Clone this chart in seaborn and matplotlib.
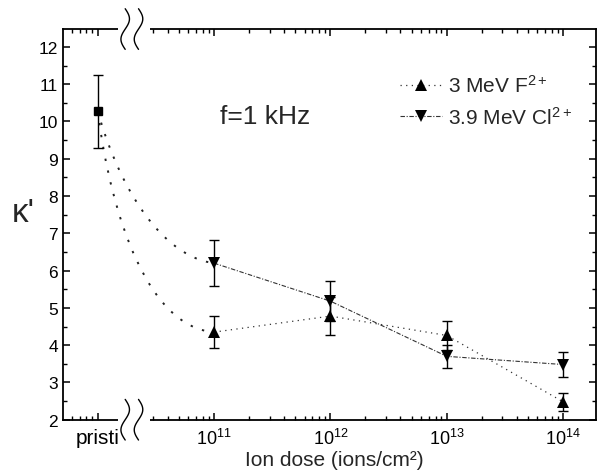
import numpy as np
import pandas as pd
import matplotlib
matplotlib.use("Agg")
import matplotlib.pyplot as plt
import seaborn as sns
from matplotlib.path import Path
from matplotlib.patches import PathPatch, Rectangle
from matplotlib.lines import Line2D

# data
pristine_dose = 1e10          # plotted position of the pristine sample
pristine_k = 10.28
pristine_err = 0.98

doses = [1e11, 1e12, 1e13, 1e14]
f_k = [4.35, 4.78, 4.26, 2.48]
f_err = [0.42, 0.50, 0.38, 0.25]
cl_k = [6.20, 5.18, 3.70, 3.48]
cl_err = [0.61, 0.54, 0.31, 0.33]

xtick_pos = [1e10, 1e11, 1e12, 1e13, 1e14]
xtick_labels = ["pristi", "$10^{11}$", "$10^{12}$", "$10^{13}$", "$10^{14}$"]

sns.set_theme(style="ticks")
plt.rcParams["font.family"] = ["Liberation Sans", "DejaVu Sans"]
plt.rcParams["mathtext.fontset"] = "custom"
plt.rcParams["mathtext.rm"] = "Liberation Sans"
plt.rcParams["mathtext.it"] = "Liberation Sans:italic"
plt.rcParams["mathtext.default"] = "regular"

fig = plt.figure(figsize=(5.98, 4.77), dpi=100)
ax = fig.add_axes([0.106, 0.118, 0.891, 0.819])
ax.set_xscale("log")
ax.set_xlim(10 ** 9.705, 10 ** 14.284)
ax.set_ylim(2, 12.48)

df_f = pd.DataFrame({"dose": doses, "k": f_k})
df_cl = pd.DataFrame({"dose": doses, "k": cl_k})

dot_f = (0, (1, 3.5))
dashdot_cl = (0, (4, 1.5, 1, 1.5))
dot_curve = (0, (1.2, 5))

sns.lineplot(data=df_f, x="dose", y="k", ax=ax, color="#333333", lw=0.9,
             linestyle=dot_f, marker="^", markersize=8.5, markeredgewidth=0,
             markerfacecolor="black", zorder=4)
sns.lineplot(data=df_cl, x="dose", y="k", ax=ax, color="#333333", lw=0.8,
             linestyle=dashdot_cl, marker="v", markersize=8.5, markeredgewidth=0,
             markerfacecolor="black", zorder=4)

ax.errorbar(doses, f_k, yerr=f_err, fmt="none", ecolor="black",
            elinewidth=1.0, capsize=3.6, capthick=1.0, zorder=3)
ax.errorbar(doses, cl_k, yerr=cl_err, fmt="none", ecolor="black",
            elinewidth=1.0, capsize=3.6, capthick=1.0, zorder=3)
ax.errorbar([pristine_dose], [pristine_k], yerr=[pristine_err], fmt="s",
            color="black", markersize=6, elinewidth=1.0, capsize=3.6,
            capthick=1.0, zorder=5)


# curved dotted connectors from the pristine point to the first dose
def connector(y_end, c1, c2):
    x0, x1 = np.log10(pristine_dose), np.log10(doses[0])
    y0 = pristine_k
    pts = [
        (x0, y0),
        (x0 + c1[0] * (x1 - x0), y0 + c1[1] * (y_end - y0)),
        (x0 + c2[0] * (x1 - x0), y0 + c2[1] * (y_end - y0)),
        (x1, y_end),
    ]
    verts = [(10 ** px, py) for px, py in pts]
    path = Path(verts, [Path.MOVETO, Path.CURVE4, Path.CURVE4, Path.CURVE4])
    ax.add_patch(PathPatch(path, fill=False, lw=1.4, ls=dot_curve,
                           edgecolor="#222222", transform=ax.transData, zorder=3))


connector(f_k[0], (0.12, 0.5), (0.45, 0.98))
connector(cl_k[0], (0.15, 0.42), (0.5, 0.95))

# axes styling
for s in ax.spines.values():
    s.set_linewidth(1.3)
    s.set_color("black")
    s.set_visible(True)
ax.set_xticks(xtick_pos)
ax.set_xticklabels(xtick_labels)
ax.set_yticks(range(2, 13))
ax.yaxis.set_minor_locator(matplotlib.ticker.MultipleLocator(0.5))
ax.tick_params(which="both", direction="in", top=True, right=True,
               colors="black")
ax.tick_params(which="major", length=5, width=1.1)
ax.tick_params(which="minor", length=3, width=1.0)
ax.tick_params(axis="x", pad=6, labelsize=13)
ax.tick_params(axis="y", pad=4, labelsize=12.5)
ax.get_xticklabels()[0].set_fontsize(15)
ax.grid(False)

ax.set_xlabel("Ion dose (ions/cm²)", fontsize=15, va="center")
ax.xaxis.set_label_coords(0.508, -0.102)
ax.set_ylabel("κ'", fontsize=24, rotation=0, va="center", ha="center")
ax.yaxis.set_label_coords(-0.075, 0.53)

ax.text(0.379, 0.777, "f=1 kHz", transform=ax.transAxes, fontsize=19,
        ha="center", va="center")

handles = [
    Line2D([], [], color="#333333", lw=0.9, ls=dot_f, marker="^",
           markersize=8.5, markerfacecolor="black", markeredgewidth=0),
    Line2D([], [], color="#333333", lw=0.8, ls=dashdot_cl, marker="v",
           markersize=8.5, markerfacecolor="black", markeredgewidth=0),
]
ax.legend(handles, ["3 MeV F$^{2+}$", "3.9 MeV Cl$^{2+}$"], loc="upper right",
          bbox_to_anchor=(0.99, 0.932), frameon=False, fontsize=15,
          handlelength=2.0, handletextpad=0.3, labelspacing=0.45)

# axis break marks on the top and bottom spines
t = np.linspace(-1, 1, 60)
for ybase in (0.0, 1.0):
    ax.add_patch(Rectangle((0.103, ybase - 0.013), 0.06, 0.028,
                           transform=ax.transAxes, facecolor="white",
                           edgecolor="none", clip_on=False, zorder=5))
    for xc in (0.116, 0.141):
        ax.plot(xc + 0.008 * np.sin(np.pi * t), ybase + 0.052 * t,
                transform=ax.transAxes, color="black", lw=1.0,
                clip_on=False, zorder=6)

fig.savefig("out.png", dpi=100)
